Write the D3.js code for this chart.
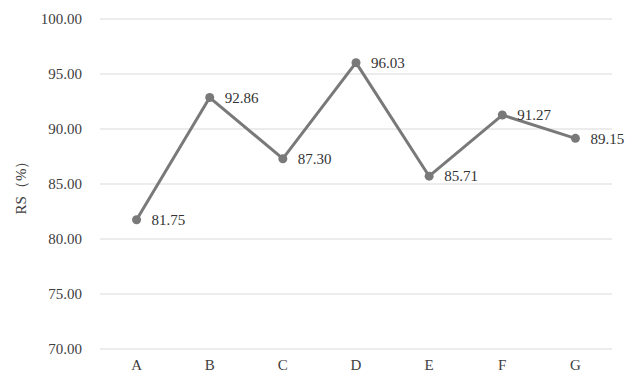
<!DOCTYPE html>
<html>
<head>
<meta charset="utf-8">
<script src="https://cdn.jsdelivr.net/npm/d3@7"></script>
<style>
  html, body { margin: 0; padding: 0; background: #fff; overflow: hidden; }
  svg { display: block; }
</style>
</head>
<body>
<svg id="chart" width="627" height="373"></svg>
<script>
// Series data
const categories = ["A", "B", "C", "D", "E", "F", "G"];
const rsValues = [81.75, 92.86, 87.30, 96.03, 85.71, 91.27, 89.15];
const yTicks = [70, 75, 80, 85, 90, 95, 100];
const yTitle = "RS（%）";

const W = 627, H = 373;
const margin = { top: 19, right: 15, bottom: 24, left: 100 };
const FONT = "'Liberation Serif'";

const svg = d3.select("#chart");

const x = d3.scaleBand()
  .domain(categories)
  .range([margin.left, W - margin.right])
  .paddingInner(0).paddingOuter(0);

const y = d3.scaleLinear()
  .domain([70, 100])
  .range([H - margin.bottom, margin.top]);

// Horizontal gridlines
svg.append("g")
  .selectAll("line")
  .data(yTicks)
  .join("line")
  .attr("x1", margin.left)
  .attr("x2", W - margin.right)
  .attr("y1", d => y(d))
  .attr("y2", d => y(d))
  .attr("stroke", "#d9d9d9")
  .attr("stroke-width", 1);

// Y axis labels
const yAxis = d3.axisLeft(y)
  .tickValues(yTicks)
  .tickFormat(d3.format(".2f"))
  .tickSize(0)
  .tickPadding(18);
svg.append("g")
  .attr("transform", `translate(${margin.left},0)`)
  .call(yAxis)
  .attr("font-family", null)
  .call(g => g.select(".domain").remove())
  .call(g => g.selectAll("text")
    .style("font-family", FONT)
    .style("font-size", "15px")
    .attr("fill", "#404040"));

// X axis labels
const xAxis = d3.axisBottom(x).tickSize(0).tickPadding(10);
svg.append("g")
  .attr("transform", `translate(0,${y(70)})`)
  .call(xAxis)
  .attr("font-family", null)
  .call(g => g.select(".domain").remove())
  .call(g => g.selectAll("text")
    .style("font-family", FONT)
    .style("font-size", "15px")
    .attr("fill", "#404040"));

// Y axis title
svg.append("text")
  .attr("transform", `translate(26,${(y(70) + y(100)) / 2}) rotate(-90)`)
  .attr("text-anchor", "middle")
  .style("font-family", FONT)
  .style("font-size", "15px")
  .attr("fill", "#404040")
  .text(yTitle);

const cx = d => x(d) + x.bandwidth() / 2;
const pts = categories.map((c, i) => ({ c, v: rsValues[i] }));

// Line
svg.append("path")
  .datum(pts)
  .attr("fill", "none")
  .attr("stroke", "#797979")
  .attr("stroke-width", 3)
  .attr("stroke-linejoin", "round")
  .attr("d", d3.line().x(d => cx(d.c)).y(d => y(d.v)));

// Markers
svg.append("g")
  .selectAll("circle")
  .data(pts)
  .join("circle")
  .attr("cx", d => cx(d.c))
  .attr("cy", d => y(d.v))
  .attr("r", 4.5)
  .attr("fill", "#797979");

// Value labels
svg.append("g")
  .selectAll("text")
  .data(pts)
  .join("text")
  .attr("x", d => cx(d.c) + 15)
  .attr("y", d => y(d.v))
  .attr("dy", "0.35em")
  .style("font-family", FONT)
  .style("font-size", "15px")
  .attr("fill", "#333")
  .text(d => d.v.toFixed(2));
</script>
</body>
</html>
